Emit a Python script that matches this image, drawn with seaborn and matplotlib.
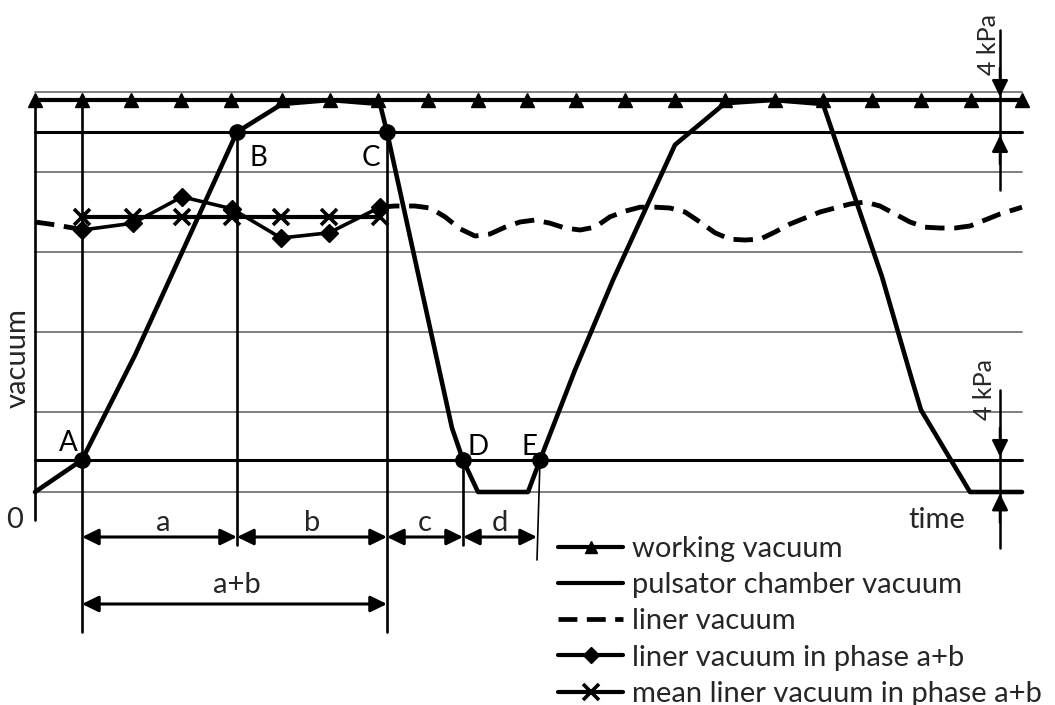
import matplotlib
matplotlib.use("Agg")
import matplotlib.pyplot as plt
import seaborn as sns
from matplotlib.lines import Line2D

# ---------------- data (time: arbitrary ms-like units, vacuum: kPa) ----------------
pulsator_t = [0, 47, 100, 202, 247, 295, 345, 352, 417, 428, 443, 493, 505, 540, 578,
              640, 690, 738, 788, 847, 877, 886, 935, 987]
pulsator_v = [0, 4, 17.1, 45, 48.5, 49, 48.5, 45, 8, 4, 0, 0, 4, 15.25, 26.5,
              43.4, 48.6, 49, 48.5, 26.9, 14, 10.25, 0, 0]

working_vacuum = 49.0
upper_threshold = 45.0
lower_threshold = 4.0
line_span = [0, 987]
working_marker_t = [0, 47, 96, 146, 196, 247, 295, 343, 393, 443, 492, 541, 590, 640,
                    690, 740, 788, 837, 886, 936, 987]

liner_pre_t = [0, 20, 38, 47]
liner_pre_v = [33.75, 33.4, 33.0, 32.75]
liner_post_t = [345, 360, 380, 395, 410, 425, 440, 455, 470, 485, 500, 515, 530, 545, 560,
                575, 590, 605, 620, 635, 650, 665, 680, 695, 710, 725, 740, 755, 770, 785,
                800, 815, 830, 845, 860, 875, 890, 905, 920, 935, 950, 965, 987]
liner_post_v = [35.6, 35.75, 35.75, 35.5, 34.4, 32.9, 32.0, 32.25, 33.1, 33.75, 34.0, 33.6,
                33.0, 32.75, 33.1, 34.4, 35.1, 35.6, 35.6, 35.5, 35.0, 33.75, 32.4, 31.6,
                31.5, 31.6, 32.5, 33.5, 34.25, 35.0, 35.5, 36.0, 36.25, 35.75, 34.75, 33.75,
                33.1, 33.0, 33.0, 33.25, 34.0, 34.75, 35.6]

phase_t = [47, 98, 147, 197, 246, 294, 345]
phase_v = [32.75, 33.6, 36.9, 35.4, 31.75, 32.4, 35.6]
mean_phase_v = 34.4

grid_v = [0, 10, 20, 30, 40, 50]

point_names = ["A", "B", "C", "D", "E"]
point_t = [47, 202, 352, 428, 505]
point_v = [4, 45, 45, 4, 4]

legend_labels = ["working vacuum", "pulsator chamber vacuum", "liner vacuum",
                 "liner vacuum in phase a+b", "mean liner vacuum in phase a+b"]

# ---------------- figure ----------------
sns.set_theme(style="white")
plt.rcParams["font.family"] = ["Lato", "DejaVu Sans"]

fig = plt.figure(figsize=(10.55, 7.05), dpi=100)
ax = fig.add_axes([0, 0, 1, 1])
ax.set_xlim(-35, 1020)
ax.set_ylim(-26.625, 61.5)
ax.axis("off")

K = "black"
FS = 21

# grid lines
for g in grid_v:
    ax.plot(line_span, [g, g], color="#808080", lw=1.4, zorder=1)

# vertical guide lines
ax.plot([0, 0], [working_vacuum, -3.5], color=K, lw=1.9, zorder=2)
ax.plot([47, 47], [working_vacuum, -17.5], color=K, lw=1.9, zorder=2)
ax.plot([202, 202], [upper_threshold, -6.6], color=K, lw=1.9, zorder=2)
ax.plot([352, 352], [upper_threshold, -17.5], color=K, lw=1.9, zorder=2)
ax.plot([428, 428], [lower_threshold, -6.6], color=K, lw=1.9, zorder=2)
ax.plot([505, 502], [lower_threshold, -8.5], color=K, lw=1.2, zorder=2)

# threshold lines (pulsator chamber)
ax.plot(line_span, [upper_threshold] * 2, color=K, lw=2.2, zorder=3)
ax.plot(line_span, [lower_threshold] * 2, color=K, lw=2.2, zorder=3)

# working vacuum
ax.plot(line_span, [working_vacuum] * 2, color=K, lw=3.0, zorder=4)
ax.plot(working_marker_t, [working_vacuum] * len(working_marker_t), ls="none",
        marker="^", ms=10, color=K, zorder=5)

# pulsator chamber vacuum
sns.lineplot(x=pulsator_t, y=pulsator_v, sort=False, estimator=None, color=K,
             lw=3.3, ax=ax, zorder=6)

# liner vacuum (dashed)
sns.lineplot(x=liner_pre_t, y=liner_pre_v, sort=False, estimator=None, color=K,
             lw=3.5, ax=ax, zorder=5, linestyle=(0, (4, 2)))
sns.lineplot(x=liner_post_t, y=liner_post_v, sort=False, estimator=None, color=K,
             lw=3.5, ax=ax, zorder=5, linestyle=(0, (4, 2)))

# liner vacuum in phase a+b
ax.plot(phase_t, phase_v, color=K, lw=2.6, marker="D", ms=9, zorder=7)
# mean liner vacuum
ax.plot([phase_t[0], phase_t[-1]], [mean_phase_v] * 2, color=K, lw=3.0, zorder=6)
ax.plot(phase_t, [mean_phase_v] * len(phase_t), ls="none", marker="x", ms=12,
        mew=2.6, color=K, zorder=6)

# key points
ax.plot(point_t, point_v, ls="none", marker="o", ms=11, color=K, zorder=8)
label_pos = {"A": (33, 6.1), "B": (223, 41.75), "C": (336, 41.75),
             "D": (443, 5.6), "E": (495, 5.6)}
for n in point_names:
    ax.text(*label_pos[n], n, fontsize=20, ha="center", va="center", color=K)

# axis labels
ax.text(-20, -3.5, "0", fontsize=FS, ha="center", va="center")
ax.text(-17, 16.75, "vacuum", fontsize=FS, ha="center", va="center", rotation=90)
ax.text(902, -3.5, "time", fontsize=FS, ha="center", va="center")

# dimension arrows
ap = dict(arrowstyle="<|-|>,head_length=0.45,head_width=0.22", color=K, lw=2.2,
          mutation_scale=22, shrinkA=0, shrinkB=0)
dims = [(47, 202, -5.625, "a", 128, -3.9), (202, 352, -5.625, "b", 277, -3.9),
        (352, 428, -5.625, "c", 390, -3.9), (428, 502, -5.625, "d", 465, -3.9),
        (47, 352, -14.0, "a+b", 202, -11.6)]
for x0, x1, y, lab, tx, ty in dims:
    ax.annotate("", xy=(x1, y), xytext=(x0, y), arrowprops=ap)
    ax.text(tx, ty, lab, fontsize=FS, ha="center", va="center")

# 4 kPa markers
ap1 = dict(arrowstyle="-|>,head_length=0.45,head_width=0.22", color=K, lw=1.8,
           mutation_scale=22, shrinkA=0, shrinkB=0)
ax.plot([965, 965], [57.75, 37.75], color=K, lw=1.8, zorder=3)
ax.annotate("", xy=(965, 49.4), xytext=(965, 53), arrowprops=ap1)
ax.annotate("", xy=(965, 44.6), xytext=(965, 41), arrowprops=ap1)
ax.text(953, 55.9, "4 kPa", fontsize=18, ha="center", va="center", rotation=90)

ax.plot([965, 965], [12.75, -7.0], color=K, lw=1.8, zorder=3)
ax.annotate("", xy=(965, 4.4), xytext=(965, 8), arrowprops=ap1)
ax.annotate("", xy=(965, -0.2), xytext=(965, -3.8), arrowprops=ap1)
ax.text(950, 12.75, "4 kPa", fontsize=18, ha="center", va="center", rotation=90)

# legend
handles = [
    Line2D([], [], color=K, lw=3.0, marker="^", ms=9),
    Line2D([], [], color=K, lw=3.0),
    Line2D([], [], color=K, lw=3.4, linestyle=(0, (4, 2))),
    Line2D([], [], color=K, lw=3.0, marker="D", ms=8),
    Line2D([], [], color=K, lw=3.0, marker="x", ms=12, mew=2.6),
]
ax.legend(handles=handles, labels=legend_labels, loc="upper left",
          bbox_to_anchor=(558 / 1055, 1 - 536 / 705), frameon=False, fontsize=FS,
          handlelength=2.23, handletextpad=0.3, labelspacing=0.35, borderpad=0,
          borderaxespad=0)

fig.savefig("out.png", dpi=100)
